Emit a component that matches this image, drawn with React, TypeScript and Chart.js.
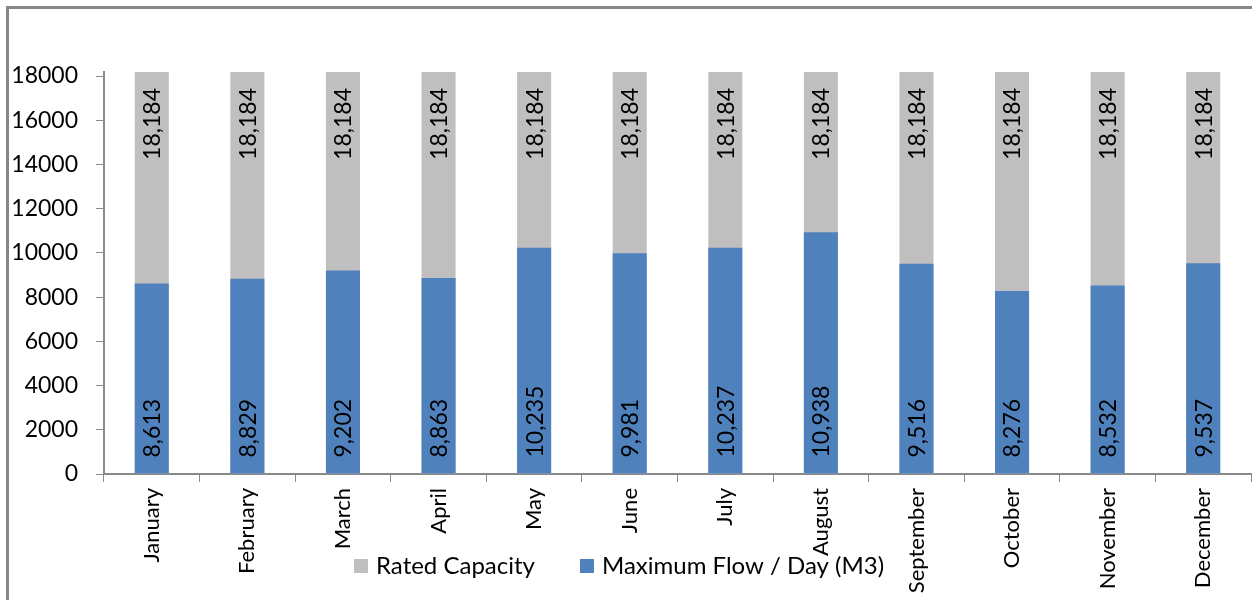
import React, { useEffect, useRef } from "react";
import { Chart, registerables } from "chart.js";
Chart.register(...registerables);

const months = ["January", "February", "March", "April", "May", "June", "July", "August", "September", "October", "November", "December"];
const ratedCapacity = [18184, 18184, 18184, 18184, 18184, 18184, 18184, 18184, 18184, 18184, 18184, 18184];
const maxFlow = [8613, 8829, 9202, 8863, 10235, 9981, 10237, 10938, 9516, 8276, 8532, 9537];
const seriesNames = ["Rated Capacity", "Maximum Flow / Day (M3)"];
const seriesColors = ["#BFBFBF", "#4F81BD"];
const yTickValues = [0, 2000, 4000, 6000, 8000, 10000, 12000, 14000, 16000, 18000];
const yMax = 18184;

const FONT = "Lato, 'Open Sans', sans-serif";

const labelPlugin = {
  id: "barLabels",
  afterDatasetsDraw(chart: any) {
    const ctx = chart.ctx;
    ctx.save();
    ctx.font = `23px ${FONT}`;
    ctx.fillStyle = "#000";
    ctx.textBaseline = "middle";
    chart.data.datasets.forEach((ds: any, di: number) => {
      const meta = chart.getDatasetMeta(di);
      meta.data.forEach((el: any, i: number) => {
        const txt = Number(ds.data[i]).toLocaleString("en-US");
        ctx.save();
        if (di === 0) {
          ctx.translate(el.x, el.y + 16);
          ctx.rotate(-Math.PI / 2);
          ctx.textAlign = "right";
        } else {
          ctx.translate(el.x, el.base - 16);
          ctx.rotate(-Math.PI / 2);
          ctx.textAlign = "left";
        }
        ctx.fillText(txt, 0, 1);
        ctx.restore();
      });
    });
    ctx.restore();
  },
  afterDraw(chart: any) {
    const ctx = chart.ctx;
    ctx.save();
    ctx.font = `24px ${FONT}`;
    ctx.textBaseline = "middle";
    ctx.textAlign = "left";
    let x = 354;
    const y = 566;
    chart.data.datasets.forEach((ds: any) => {
      ctx.fillStyle = ds.backgroundColor;
      ctx.fillRect(x, y - 7, 14, 14);
      ctx.fillStyle = "#000";
      ctx.fillText(ds.label, x + 22, y);
      x += 22 + ctx.measureText(ds.label).width + 45;
    });
    ctx.restore();
  },
};

export default function App() {
  const ref = useRef<HTMLCanvasElement>(null);
  useEffect(() => {
    const canvas = ref.current!;
    const chart = new Chart(canvas, {
      type: "bar",
      data: {
        labels: months,
        datasets: [
          { label: seriesNames[0], data: ratedCapacity, backgroundColor: seriesColors[0], order: 1, grouped: false, barPercentage: 0.356, categoryPercentage: 1 },
          { label: seriesNames[1], data: maxFlow, backgroundColor: seriesColors[1], order: 0, grouped: false, barPercentage: 0.356, categoryPercentage: 1 },
        ],
      },
      options: {
        responsive: false,
        animation: false,
        devicePixelRatio: 1,
        layout: { padding: { top: 72, right: 1, left: 0, bottom: 0 } },
        plugins: { legend: { display: false }, tooltip: { enabled: false } },
        scales: {
          x: {
            grid: { drawOnChartArea: false, drawTicks: true, tickLength: 8, color: "#898989", offset: true },
            border: { display: true, color: "#898989", width: 2 },
            ticks: { maxRotation: 90, minRotation: 90, autoSkip: false, padding: 6, color: "#000", font: { family: FONT, size: 22 } },
            afterFit: (s: any) => { s.height = 126; },
          },
          y: {
            type: "linear",
            min: 0,
            max: yMax,
            grid: { drawOnChartArea: false, drawTicks: true, tickLength: 8, color: "#898989" },
            border: { display: true, color: "#898989", width: 2 },
            ticks: { autoSkip: false, padding: 18, color: "#000", font: { family: FONT, size: 23 }, callback: (v: any) => String(v) },
            afterBuildTicks: (s: any) => { s.ticks = yTickValues.map((v) => ({ value: v })); },
            afterFit: (s: any) => { s.width = 104; },
          },
        },
      },
      plugins: [labelPlugin],
    } as any);
    return () => chart.destroy();
  }, []);
  return (
    <div style={{ position: "fixed", left: 0, top: 0, width: 1252, height: 600, overflow: "hidden", background: "#fff" }}>
      <div style={{ position: "absolute", left: 6, top: 6, width: 1300, height: 700, borderLeft: "3px solid #878787", borderTop: "3px solid #878787" }} />
      <canvas ref={ref} width={1252} height={600} style={{ position: "absolute", left: 0, top: 0 }} />
    </div>
  );
}
